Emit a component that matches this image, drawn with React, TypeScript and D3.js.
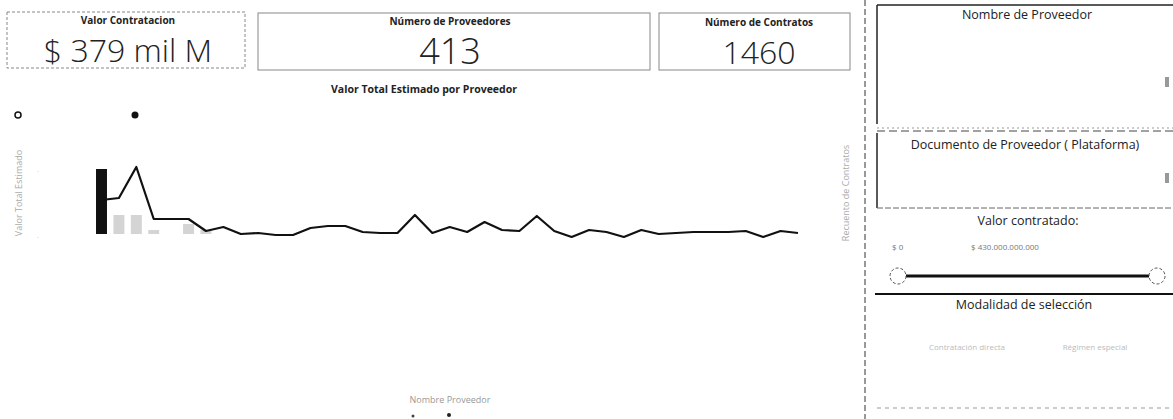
import * as d3 from "d3";

const FONT = "'Open Sans', 'DejaVu Sans', sans-serif";

// KPI cards
const kpiTitles = ["Valor Contratacion", "Número de Proveedores", "Número de Contratos"];
const kpiValues = ["$ 379 mil M", "413", "1460"];

// combo chart: one bar + line per proveedor (top 41)
const proveedores = d3.range(1, 42).map((i) => `P${i}`);
const barValues = [65, 19, 19, 4, 0, 10, 4, 0, 0, 0, 0, 0, 0, 0, 0, 0, 0, 0, 0, 0, 0, 0, 0, 0, 0, 0, 0, 0, 0, 0, 0, 0, 0, 0, 0, 0, 0, 0, 0, 0, 0];
const lineValues = [40, 42, 73, 21, 21, 21, 9, 13, 6, 7, 5, 5, 12, 14, 14, 8, 7, 7, 25, 7, 13, 8, 18, 10, 9, 24, 9, 3, 10, 8, 3, 10, 6, 7, 8, 8, 8, 9, 3, 9, 7];

// slicers
const slicerTitles = ["Nombre de Proveedor", "Documento de Proveedor ( Plataforma)", "Valor contratado:", "Modalidad de selección"];
const rangeLabels = ["$ 0", "$ 430.000.000.000"];
const modalidades = ["Contratación directa", "Régimen especial"];

export default function App() {
  const x = d3.scalePoint<string>().domain(proveedores).range([101.5, 798]);
  const barW = x.step() * 0.63;
  const yBar = d3.scaleLinear().domain([0, 80]).range([234, 154]);
  const yLine = d3.scaleLinear().domain([0, 80]).range([240, 160]);
  const line = d3
    .line<number>()
    .x((_, i) => x(proveedores[i]) ?? 0)
    .y((d) => yLine(d));

  const cards = [
    { x: 7, y: 12, w: 238, h: 56, cx: 128, ty: 24, vy: 62, vs: 32 },
    { x: 258, y: 13, w: 392, h: 57, cx: 450, ty: 25, vy: 64, vs: 36 },
    { x: 659, y: 13, w: 191, h: 57, cx: 759, ty: 26, vy: 64, vs: 32 },
  ];

  return (
    <svg width={1173} height={419} style={{ position: "absolute", left: 0, top: 0, background: "#fff" }} fontFamily={FONT}>
      {/* KPI cards */}
      {cards.map((c, i) => (
        <g key={i}>
          <rect x={c.x} y={c.y} width={c.w} height={c.h} fill="none" stroke="#888" strokeWidth={1} strokeDasharray={i === 0 ? "3 2" : "none"} />
          <text x={c.cx} y={c.ty} textAnchor="middle" fontSize={10} fontWeight={700} fill="#222">
            {kpiTitles[i]}
          </text>
          <text x={c.cx} y={c.vy} textAnchor="middle" fontSize={c.vs} fontWeight={300} fill="#222">
            {kpiValues[i]}
          </text>
        </g>
      ))}

      {/* chart */}
      <text x={424} y={93} textAnchor="middle" fontSize={10.5} fontWeight={700} fill="#222">
        Valor Total Estimado por Proveedor
      </text>
      <circle cx={18} cy={115} r={3} fill="none" stroke="#111" strokeWidth={1.5} />
      <circle cx={135} cy={115} r={3.5} fill="#111" />
      <text transform="translate(22,193) rotate(-90)" textAnchor="middle" fontSize={9} fill="#aaa">
        Valor Total Estimado
      </text>
      <text transform="translate(849,193) rotate(-90)" textAnchor="middle" fontSize={9} fill="#aaa">
        Recuento de Contratos
      </text>
      <text x={38} y={174} textAnchor="middle" fontSize={7} fill="#bbb">·</text>
      <text x={38} y={240} textAnchor="middle" fontSize={7} fill="#bbb">·</text>

      {barValues.map((v, i) =>
        v > 0 ? (
          <rect
            key={i}
            x={(x(proveedores[i]) ?? 0) - barW / 2}
            y={yBar(v)}
            width={barW}
            height={yBar(0) - yBar(v)}
            fill={i === 0 ? "#111" : "#d4d4d4"}
          />
        ) : null,
      )}
      <path d={line(lineValues) ?? ""} fill="none" stroke="#111" strokeWidth={2.2} strokeLinejoin="round" />

      <text x={450} y={403} textAnchor="middle" fontSize={9} fill="#999">
        Nombre Proveedor
      </text>
      <circle cx={413} cy={416} r={1.5} fill="#444" />
      <circle cx={449} cy={415} r={2} fill="#222" />

      {/* slicer panel */}
      <line x1={865} y1={0} x2={865} y2={419} stroke="#333" strokeWidth={1} strokeDasharray="6 3" />

      <line x1={877} y1={5} x2={1173} y2={5} stroke="#222" strokeWidth={1.5} />
      <line x1={877} y1={5} x2={877} y2={124} stroke="#222" strokeWidth={1.5} />
      <line x1={877} y1={128} x2={1173} y2={128} stroke="#999" strokeWidth={1} strokeDasharray="2 3" />
      <text x={1027} y={19} textAnchor="middle" fontSize={12.5} fill="#222">
        {slicerTitles[0]}
      </text>
      <rect x={1165} y={77} width={4} height={10} fill="#999" />

      <line x1={877} y1={131} x2={1173} y2={131} stroke="#444" strokeWidth={1} strokeDasharray="8 4" />
      <line x1={877} y1={133} x2={877} y2={208} stroke="#222" strokeWidth={1.5} />
      <line x1={877} y1={208} x2={1173} y2={208} stroke="#666" strokeWidth={1} strokeDasharray="6 2" />
      <text x={1025} y={149} textAnchor="middle" fontSize={12.5} fill="#222">
        {slicerTitles[1]}
      </text>
      <rect x={1165} y={173} width={4} height={10} fill="#999" />

      <text x={1028} y={225} textAnchor="middle" fontSize={12.5} fill="#222">
        {slicerTitles[2]}
      </text>
      <text x={892} y={250} fontSize={8} fill="#777">
        {rangeLabels[0]}
      </text>
      <text x={971} y={250} fontSize={8} fill="#777">
        {rangeLabels[1]}
      </text>
      <line x1={906} y1={276} x2={1149} y2={276} stroke="#111" strokeWidth={3} />
      <circle cx={898} cy={276} r={8} fill="#fff" stroke="#555" strokeWidth={1} strokeDasharray="3 2" />
      <circle cx={1157} cy={276} r={8} fill="#fff" stroke="#555" strokeWidth={1} strokeDasharray="3 2" />

      <line x1={875} y1={294} x2={1173} y2={294} stroke="#111" strokeWidth={2} />
      <text x={1024} y={309} textAnchor="middle" fontSize={12.5} fill="#222">
        {slicerTitles[3]}
      </text>
      {modalidades.map((m, i) => (
        <text key={m} x={i === 0 ? 967 : 1095} y={350} textAnchor="middle" fontSize={8} fill="#bbb">
          {m}
        </text>
      ))}
      <line x1={877} y1={408} x2={1173} y2={408} stroke="#999" strokeWidth={1} strokeDasharray="4 4" />
    </svg>
  );
}
